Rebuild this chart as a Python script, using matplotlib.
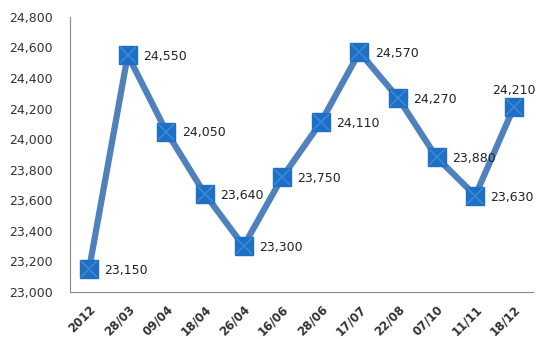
import matplotlib.pyplot as plt
from matplotlib.ticker import FuncFormatter

dates = ['2012', '28/03', '09/04', '18/04', '26/04', '16/06', '28/06',
         '17/07', '22/08', '07/10', '11/11', '18/12']
values = [23150, 24550, 24050, 23640, 23300, 23750, 24110,
          24570, 24270, 23880, 23630, 24210]

fig = plt.figure(figsize=(5.37, 3.39), dpi=100)
ax = fig.add_axes([0.130, 0.139, 0.863, 0.811])

x = range(len(values))
ax.plot(x, values, color='#4f81bd', lw=4.5, zorder=2)
ax.plot(x, values, ls='none', marker='s', ms=13, mfc='#1f6fc4', mec='#1f6fc4', zorder=3)
ax.plot(x, values, ls='none', marker='x', ms=11, mec='#3a8ad8', mew=1.2, zorder=4)

for i, v in enumerate(values):
    if i == len(values) - 1:
        ax.annotate(f'{v:,}', (i, v), xytext=(0, 12), textcoords='offset points',
                    ha='center', va='center', fontsize=9, color='#222222')
    else:
        ax.annotate(f'{v:,}', (i, v), xytext=(11, -1), textcoords='offset points',
                    ha='left', va='center', fontsize=9, color='#222222')

ax.set_xlim(-0.5, len(values) - 0.5)
ax.set_ylim(23000, 24800)
ax.set_yticks(range(23000, 24801, 200))
ax.yaxis.set_major_formatter(FuncFormatter(lambda v, p: f'{int(v):,}'))
ax.set_xticks(list(x))
ax.set_xticklabels(dates, rotation=45, ha='right', rotation_mode='anchor',
                   fontweight='bold', fontsize=8.5)

for s in ['top', 'right']:
    ax.spines[s].set_visible(False)
for s in ['left', 'bottom']:
    ax.spines[s].set_color('#888888')
ax.tick_params(axis='both', length=0, colors='#333333')
ax.tick_params(axis='x', pad=8)
ax.tick_params(axis='y', labelsize=9, pad=12)

fig.savefig('out.png')
